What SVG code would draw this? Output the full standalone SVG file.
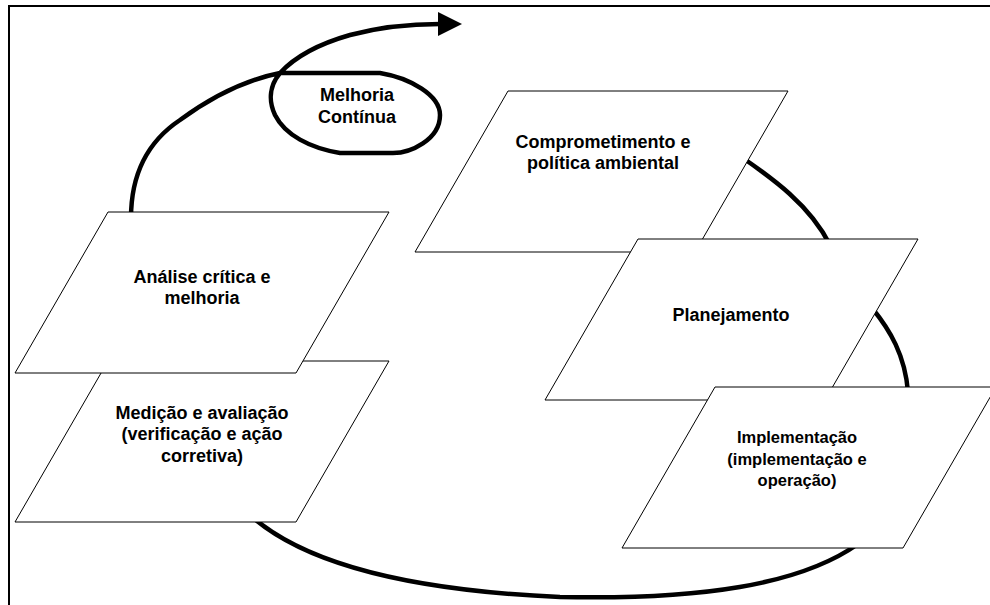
<svg xmlns="http://www.w3.org/2000/svg" width="990" height="605" viewBox="0 0 990 605">
<defs>
<style>
.frame{fill:none;stroke:#000;stroke-width:2}
.flow{fill:none;stroke:#000;stroke-width:4.5;stroke-linecap:round;stroke-linejoin:round}
.box{fill:#fff;stroke:#000;stroke-width:1}
.lbl{font-family:"Liberation Sans",Arial,sans-serif;font-weight:bold;font-size:18px;fill:#000;text-anchor:middle}
.sm{font-size:16.5px}
</style>
<marker id="arr" markerUnits="userSpaceOnUse" markerWidth="26" markerHeight="26" refX="2" refY="12" orient="auto" viewBox="0 0 26 24">
<path d="M0,0 L24,12 L0,24 Z" fill="#000"/>
</marker>
</defs>
<rect width="990" height="605" fill="#fff"/>
<rect class="frame" x="9" y="6" width="1000" height="620"/>
<g id="connectors">
<path class="flow" d="M131,218 C131,170 150,140 180,120 C210,98 245,80 280,73 L380,73 C410,78 440,95 440,115 C440,140 410,153 393,153 L340,153 C310,148 285,135 275,115 C268,100 270,85 280,73 C292,60 315,45 350,35 C380,27 410,24 440,24" marker-end="url(#arr)"/>
<path class="flow" d="M740,156 C772,178 810,205 830,245"/>
<path class="flow" d="M872,308 C890,330 905,355 908,392"/>
<path class="flow" d="M250,515 C300,560 400,590 560,597 C700,600 800,585 858,544"/>
</g>
<g id="n-comprometimento">
<polygon class="box" points="508,91 788,91 695,252 415,252"/>
<text class="lbl" x="603" y="148">Comprometimento e</text>
<text class="lbl" x="603" y="169">política ambiental</text>
</g>
<g id="n-planejamento">
<polygon class="box" points="638,239 918,239 825,400 545,400"/>
<text class="lbl" x="731" y="321">Planejamento</text>
</g>
<g id="n-implementacao">
<polygon class="box" points="715,387 996,387 903,548 622,548"/>
<text class="lbl sm" x="797" y="443">Implementação</text>
<text class="lbl sm" x="797" y="465">(implementação e</text>
<text class="lbl sm" x="797" y="486">operação)</text>
</g>
<g id="n-medicao">
<polygon class="box" points="108,361 389,361 296,522 15,522"/>
<text class="lbl" x="202" y="419">Medição e avaliação</text>
<text class="lbl" x="202" y="440">(verificação e ação</text>
<text class="lbl" x="202" y="462">corretiva)</text>
</g>
<g id="n-analise">
<polygon class="box" points="108,212 389,212 296,373 15,373"/>
<text class="lbl" x="202" y="283">Análise crítica e</text>
<text class="lbl" x="202" y="304">melhoria</text>
</g>
<g id="n-melhoria">
<text class="lbl" x="357" y="101">Melhoria</text>
<text class="lbl" x="357" y="123">Contínua</text>
</g>
</svg>
